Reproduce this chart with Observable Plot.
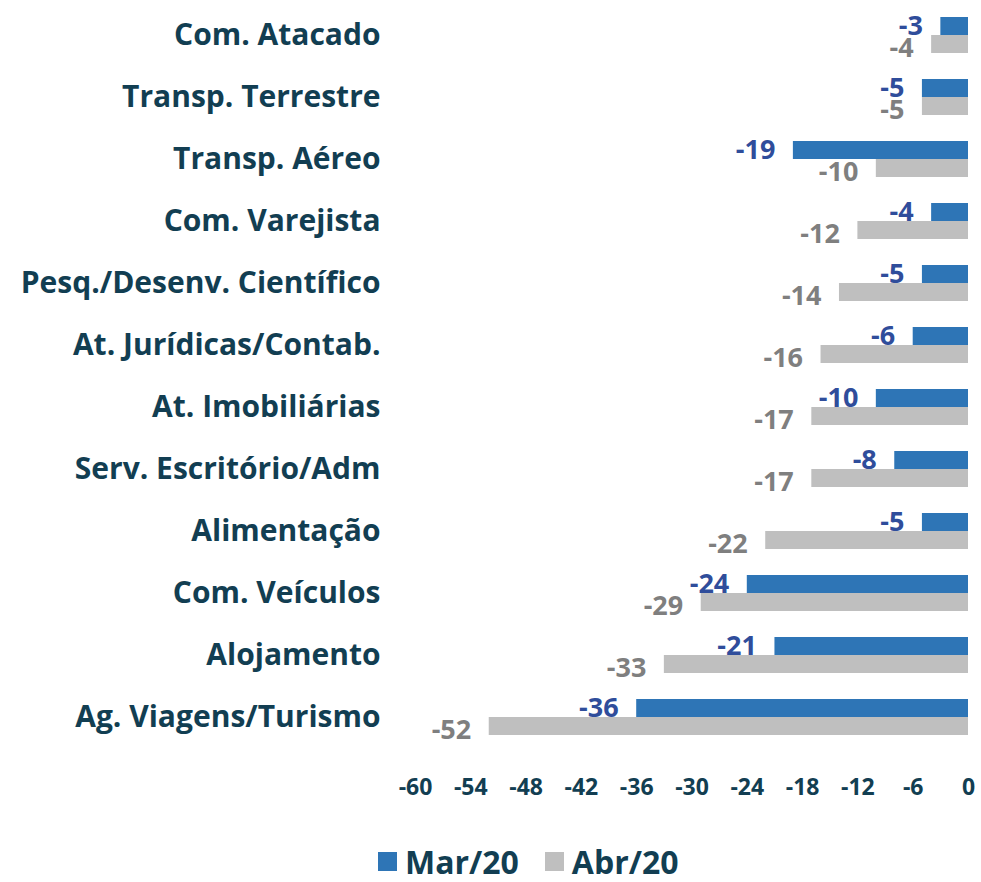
<!DOCTYPE html>
<html>
<head>
<meta charset="utf-8">
<script src="https://cdn.jsdelivr.net/npm/d3@7"></script>
<script src="https://cdn.jsdelivr.net/npm/@observablehq/plot@0.6"></script>
<style>
  html, body { margin: 0; padding: 0; background: #ffffff; }
  #wrap { position: relative; width: 981px; height: 882px; font-family: "Open Sans", Lato, sans-serif; }
  #legend { position: absolute; top: 840px; left: 378px; display: flex; align-items: center;
            font-family: "Open Sans", sans-serif; font-weight: 700; font-size: 32px; color: #123e52; }
  .sw { display: inline-block; width: 19px; height: 19px; margin-right: 8px; }
  .item { display: flex; align-items: center; margin-right: 26px; }
</style>
</head>
<body>
<div id="wrap">
  <div id="chart"></div>
  <div id="legend"></div>
</div>
<script>
const categories = [
  "Com. Atacado",
  "Transp. Terrestre",
  "Transp. Aéreo",
  "Com. Varejista",
  "Pesq./Desenv. Científico",
  "At. Jurídicas/Contab.",
  "At. Imobiliárias",
  "Serv. Escritório/Adm",
  "Alimentação",
  "Com. Veículos",
  "Alojamento",
  "Ag. Viagens/Turismo"
];
const seriesNames = ["Mar/20", "Abr/20"];
const mar20 = [-3, -5, -19, -4, -5, -6, -10, -8, -5, -24, -21, -36];
const abr20 = [-4, -5, -10, -12, -14, -16, -17, -17, -22, -29, -33, -52];
const xTicks = [-60, -54, -48, -42, -36, -30, -24, -18, -12, -6, 0];

const colors = { "Mar/20": "#2e75b6", "Abr/20": "#bfbfbf" };
const labelColors = { "Mar/20": "#2f4d9b", "Abr/20": "#7f7f7f" };
const textColor = "#123e52";

const marData = categories.map((c, i) => ({ category: c, series: seriesNames[0], value: mar20[i] }));
const abrData = categories.map((c, i) => ({ category: c, series: seriesNames[1], value: abr20[i] }));

const chart = Plot.plot({
  width: 981,
  height: 815,
  marginLeft: 415,
  marginRight: 13,
  marginTop: 4,
  marginBottom: 67,
  style: { fontFamily: "'Open Sans', Lato, sans-serif", background: "transparent" },
  x: { domain: [-60, 0], label: null },
  y: { domain: categories, padding: 0, label: null },
  marks: [
    Plot.barX(marData, { x: "value", y: "category", fill: colors["Mar/20"], insetTop: 13, insetBottom: 31 }),
    Plot.barX(abrData, { x: "value", y: "category", fill: colors["Abr/20"], insetTop: 31, insetBottom: 13 }),
    Plot.text(marData, { x: "value", y: "category", text: d => String(d.value), textAnchor: "end",
      dx: -18, dy: -9, fill: labelColors["Mar/20"], fontSize: 27, fontWeight: "bold" }),
    Plot.text(abrData, { x: "value", y: "category", text: d => String(d.value), textAnchor: "end",
      dx: -18, dy: 13, fill: labelColors["Abr/20"], fontSize: 27, fontWeight: "bold" }),
    Plot.axisY({ tickSize: 0, tickPadding: 35, fontSize: 30, fontWeight: "bold", fill: textColor, label: null }),
    Plot.axisX({ ticks: xTicks, tickFormat: d => String(d), tickSize: 0, tickPadding: 30, fontSize: 23,
      fontWeight: "bold", fill: textColor, label: null })
  ]
});
document.getElementById("chart").appendChild(chart);

const legend = document.getElementById("legend");
seriesNames.forEach(name => {
  const item = document.createElement("span");
  item.className = "item";
  const sw = document.createElement("span");
  sw.className = "sw";
  sw.style.background = colors[name];
  item.appendChild(sw);
  item.appendChild(document.createTextNode(name));
  legend.appendChild(item);
});
</script>
</body>
</html>
